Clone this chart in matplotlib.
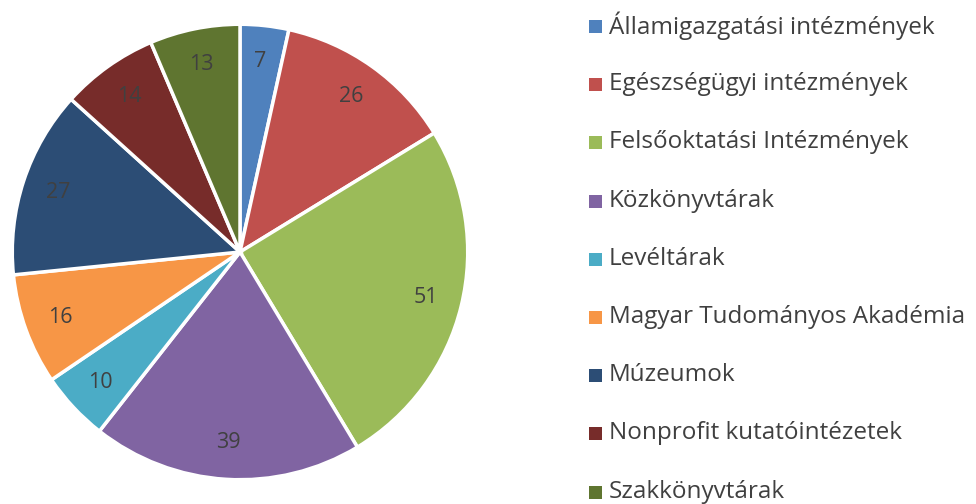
import matplotlib
matplotlib.use("Agg")
import matplotlib.pyplot as plt
from matplotlib.patches import Rectangle

categories = ["Államigazgatási intézmények", "Egészségügyi intézmények",
              "Felsőoktatási Intézmények", "Közkönyvtárak", "Levéltárak",
              "Magyar Tudományos Akadémia", "Múzeumok",
              "Nonprofit kutatóintézetek", "Szakkönyvtárak"]
values = [7, 26, 51, 39, 10, 16, 27, 14, 13]
colors = ["#4F81BD", "#C0504D", "#9BBB59", "#8064A2", "#4BACC6",
          "#F79646", "#2C4D75", "#772C2A", "#5F7530"]

plt.rcParams['font.family'] = ['Open Sans', 'DejaVu Sans']
W, H = 976, 504
fig = plt.figure(figsize=(W/100, H/100), dpi=100)
cx, cy, r = 240, 252, 230
ax = fig.add_axes([(cx - r)/W, 1 - (cy + r)/H, 2*r/W, 2*r/H])
wedges, texts = ax.pie(values, colors=colors, startangle=90, counterclock=False,
                       labels=[str(v) for v in values], labeldistance=0.84,
                       wedgeprops=dict(edgecolor="white", linewidth=2.5),
                       textprops=dict(color="#404040", fontsize=15.5))
for t in texts:
    t.set_ha("center"); t.set_va("center")
ax.set_xlim(-1.01, 1.01); ax.set_ylim(-1.01, 1.01)
ax.set_aspect("equal")
ax.axis("off")

y0, dy = 26, 58.2
for i, (c, col) in enumerate(zip(categories, colors)):
    yc = y0 + i*dy
    fig.patches.append(Rectangle((589/W, 1 - (yc + 7)/H), 13/W, 13/H,
                                 transform=fig.transFigure, facecolor=col, edgecolor="none"))
    fig.text(609/W, 1 - yc/H, c, fontsize=17.5, color="#404040", va="center", ha="left")

fig.savefig("out.png", dpi=100)
